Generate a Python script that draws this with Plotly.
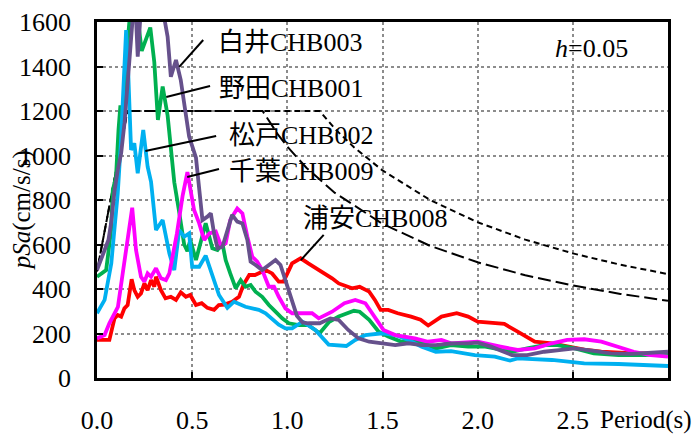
import plotly.graph_objects as go

# ---------------- data ----------------
period_urayasu = [0, 0.065, 0.092, 0.109, 0.127, 0.144, 0.161, 0.182, 0.196, 0.214, 0.231, 0.249, 0.266, 0.284,
                  0.301, 0.31, 0.336, 0.36, 0.388, 0.415, 0.44, 0.467, 0.49, 0.52, 0.55, 0.58, 0.615, 0.64, 0.67,
                  0.71, 0.746, 0.77, 0.80, 0.83, 0.886, 0.92, 0.955, 0.98, 1.025, 1.07, 1.11, 1.18, 1.235, 1.27,
                  1.34, 1.38, 1.43, 1.46, 1.49, 1.53, 1.58, 1.65, 1.70, 1.74, 1.81, 1.89, 1.95, 2.0, 2.09, 2.14,
                  2.21, 2.30, 2.39, 2.47, 2.56, 2.65, 2.82, 3.0]
psa_urayasu = [171, 171, 268, 283, 276, 313, 328, 444, 395, 365, 380, 425, 395, 440,
               410, 455, 395, 358, 365, 351, 385, 365, 373, 328, 336, 315, 306, 328, 330,
               343, 365, 420, 463, 463, 485, 470, 433, 433, 515, 538, 515, 478, 448, 425,
               403, 410, 388, 351, 306, 306, 291, 276, 262, 236, 276, 291, 276, 253, 246, 243,
               208, 163, 156, 141, 128, 118, 111, 111]

period_chiba = [0, 0.04, 0.065, 0.092, 0.11, 0.135, 0.16, 0.185, 0.205, 0.231, 0.249, 0.266, 0.284, 0.31,
                0.336, 0.362, 0.38, 0.397, 0.42, 0.45, 0.475, 0.51, 0.537, 0.563, 0.59, 0.624, 0.65, 0.676,
                0.70, 0.737, 0.764, 0.79, 0.816, 0.842, 0.868, 0.903, 0.93, 0.955, 0.99, 1.025, 1.08, 1.13,
                1.165, 1.235, 1.30, 1.357, 1.41, 1.46, 1.505, 1.567, 1.67, 1.74, 1.81, 1.86, 2.0, 2.12, 2.21,
                2.30, 2.39, 2.47, 2.56, 2.65, 2.74, 2.82, 2.91, 3.0]
psa_chiba = [178, 193, 246, 291, 320, 470, 620, 765, 575, 455, 433, 470, 455, 493,
             448, 440, 470, 545, 650, 820, 925, 755, 695, 620, 650, 658, 598, 605,
             710, 762, 740, 635, 545, 523, 485, 410, 410, 365, 313, 291, 291, 291,
             268, 298, 336, 351, 336, 276, 216, 193, 178, 163, 171, 156, 163, 141, 126,
             133, 156, 171, 174, 163, 141, 118, 103, 96]

period_noda = [0, 0.048, 0.057, 0.074, 0.083, 0.1, 0.113, 0.123, 0.132, 0.145, 0.16, 0.18, 0.205, 0.235,
               0.28, 0.301, 0.32, 0.345, 0.371, 0.388, 0.406, 0.43, 0.458, 0.475, 0.49, 0.52, 0.554, 0.571,
               0.606, 0.633, 0.659, 0.676, 0.70, 0.729, 0.755, 0.78, 0.807, 0.833, 0.868, 0.903, 0.938,
               0.973, 1.008, 1.06, 1.11, 1.17, 1.22, 1.27, 1.35, 1.38, 1.43, 1.48, 1.53, 1.60, 1.67, 1.78,
               1.86, 1.95, 2.04, 2.18, 2.26, 2.35, 2.42, 2.51, 2.61, 2.74, 2.88, 3.0]
psa_noda = [455, 485, 545, 665, 845, 905, 1115, 1225, 1100, 1250, 1500, 1700, 1680, 1470,
            1575, 1420, 1160, 1310, 1180, 1050, 880, 755, 600, 570, 620, 530, 635, 695,
            583, 575, 605, 530, 470, 403, 440, 410, 418, 388, 365, 328, 298,
            268, 246, 238, 238, 201, 253, 276, 302, 298, 261, 208, 186, 163, 171, 133,
            148, 141, 141, 118, 133, 148, 148, 133, 111, 103, 103, 111]

period_matsudo = [0, 0.04, 0.075, 0.092, 0.109, 0.125, 0.138, 0.153, 0.165, 0.179, 0.196, 0.214, 0.243, 0.266,
                  0.284, 0.301, 0.31, 0.345, 0.38, 0.406, 0.432, 0.458, 0.484, 0.50, 0.537, 0.571, 0.606,
                  0.641, 0.685, 0.72, 0.78, 0.85, 0.886, 0.92, 0.955, 0.99, 1.025, 1.08, 1.147, 1.217, 1.31,
                  1.357, 1.41, 1.50, 1.567, 1.636, 1.706, 1.78, 1.86, 1.985, 2.09, 2.17, 2.21, 2.39, 2.56,
                  2.74, 3.0]
psa_matsudo = [291, 351, 515, 665, 830, 1050, 1300, 1564, 1350, 1025, 1055, 920, 1115, 950,
               882, 740, 665, 710, 560, 485, 665, 635, 650, 500, 500, 550, 455,
               373, 315, 343, 320, 306, 291, 268, 240, 223, 223, 253, 216, 150, 144,
               171, 193, 201, 193, 171, 141, 118, 121, 103, 96, 78, 88, 81, 66,
               63, 54]

period_shiroi = [0, 0.017, 0.04, 0.06, 0.074, 0.092, 0.109, 0.127, 0.145, 0.161, 0.179, 0.195, 0.205, 0.214,
                 0.23, 0.26, 0.3, 0.353, 0.371, 0.388, 0.415, 0.44, 0.458, 0.484, 0.52, 0.537, 0.554, 0.58,
                 0.598, 0.615, 0.633, 0.659, 0.685, 0.71, 0.737, 0.764, 0.79, 0.807, 0.833, 0.868, 0.903,
                 0.938, 0.964, 0.99, 1.025, 1.05, 1.08, 1.11, 1.17, 1.226, 1.27, 1.32, 1.374, 1.43, 1.50,
                 1.567, 1.636, 1.706, 1.78, 1.86, 1.95, 2.0, 2.07, 2.18, 2.26, 2.35, 2.44, 2.51, 2.60, 2.70,
                 2.81, 2.91, 3.0]
psa_shiroi = [485, 523, 568, 620, 695, 840, 935, 1010, 1150, 1309, 1489, 1700, 1620, 1444,
              1650, 1720, 1700, 1620, 1534, 1354, 1429, 1339, 1235, 1085, 990, 860, 710, 725,
              740, 650, 583, 590, 665, 733, 703, 695, 620, 523, 508, 485, 508,
              530, 508, 440, 351, 280, 250, 246, 246, 268, 261, 216, 178, 163, 156,
              148, 156, 148, 148, 156, 156, 159, 141, 103, 103, 118, 126, 133, 123, 111,
              108, 114, 118]

# design spectra (dashed reference curves)
period_design_a = [0, 0.16, 0.87, 0.95, 1.0, 1.1, 1.25, 1.5, 1.75, 2.0, 2.25, 2.5, 2.75, 3.0]
psa_design_a = [480, 1200, 1200, 1095, 1040, 945, 832, 693, 594, 520, 462, 416, 378, 347]
period_design_b = [0, 0.16, 1.17, 1.25, 1.35, 1.5, 1.75, 2.0, 2.25, 2.5, 2.75, 3.0]
psa_design_b = [480, 1200, 1200, 1120, 1037, 933, 800, 700, 622, 560, 509, 467]

x_ticks = [0.0, 0.5, 1.0, 1.5, 2.0, 2.5]
x_tick_labels = ["0.0", "0.5", "1.0", "1.5", "2.0", "2.5"]
y_ticks = [0, 200, 400, 600, 800, 1000, 1200, 1400, 1600]

# ---------------- figure ----------------
SERIF = "Times New Roman, Liberation Serif, Noto Sans CJK JP, serif"
fig = go.Figure()

fig.add_trace(go.Scatter(x=period_design_a, y=psa_design_a, mode="lines",
                         line=dict(color="black", width=2, dash="13px,5px"), showlegend=False))
fig.add_trace(go.Scatter(x=period_design_b, y=psa_design_b, mode="lines",
                         line=dict(color="black", width=2, dash="6px,4px"), showlegend=False))

series = [
    (period_urayasu, psa_urayasu, "#ff0000"),
    (period_noda, psa_noda, "#00b050"),
    (period_matsudo, psa_matsudo, "#00b0f0"),
    (period_chiba, psa_chiba, "#ff00ff"),
    (period_shiroi, psa_shiroi, "#66518c"),
]
for px_, py_, col in series:
    fig.add_trace(go.Scatter(x=px_, y=py_, mode="lines",
                             line=dict(color=col, width=3.8), showlegend=False))

# station labels with leader lines
labels = [
    ("白井CHB003", 0.626, 1506, (0.558, 1519, 0.432, 1398)),
    ("野田CHB001", 0.631, 1303, (0.594, 1312, 0.364, 1263)),
    ("松戸CHB002", 0.683, 1088, (0.626, 1088, 0.254, 1020)),
    ("千葉CHB009", 0.683, 930, (0.641, 939, 0.474, 903)),
    ("浦安CHB008", 1.071, 715, (1.191, 643, 1.071, 530)),
]
for text, lx, ly, (x0, y0, x1, y1) in labels:
    fig.add_annotation(x=lx, y=ly, xref="x", yref="y", text=text, showarrow=False,
                       xanchor="left", yanchor="middle",
                       font=dict(family=SERIF, size=26, color="black"))
    fig.add_shape(type="line", x0=x0, y0=y0, x1=x1, y1=y1, xref="x", yref="y",
                  line=dict(color="black", width=2))

fig.add_annotation(x=2.80, y=1483, xref="x", yref="y", text="<i>h</i>=0.05", showarrow=False,
                   xanchor="right", yanchor="middle", font=dict(family=SERIF, size=26, color="black"))
fig.add_annotation(x=1.045, y=-0.118, xref="paper", yref="paper", text="Period(s)", showarrow=False,
                   xanchor="right", yanchor="middle", font=dict(family=SERIF, size=25, color="black"))
fig.add_annotation(x=-0.132, y=0.47, xref="paper", yref="paper", text="<i>pSa</i>(cm/s/s)",
                   showarrow=False, textangle=-90, xanchor="center", yanchor="middle",
                   font=dict(family=SERIF, size=25, color="black"))

axis_common = dict(showline=True, linecolor="black", linewidth=2.5, mirror=True,
                   ticks="inside", ticklen=6, tickwidth=2, tickcolor="black",
                   showgrid=True, gridcolor="#8c8c8c", griddash="dot", gridwidth=1.5,
                   zeroline=False, automargin=False,
                   tickfont=dict(family=SERIF, size=26, color="black"))

fig.update_xaxes(range=[0, 3.0], tickvals=x_ticks, ticktext=x_tick_labels,
                 ticklabelstandoff=17, **axis_common)
fig.update_yaxes(range=[0, 1600], tickvals=y_ticks, ticklabelstandoff=18, **axis_common)

fig.update_layout(width=697, height=434, margin=dict(l=97, r=29, t=22, b=56),
                  plot_bgcolor="white", paper_bgcolor="white", showlegend=False,
                  font=dict(family=SERIF))

fig.write_html("out.html", config={"displayModeBar": False},
               post_script="document.body.style.margin='0';document.body.style.padding='0';")
